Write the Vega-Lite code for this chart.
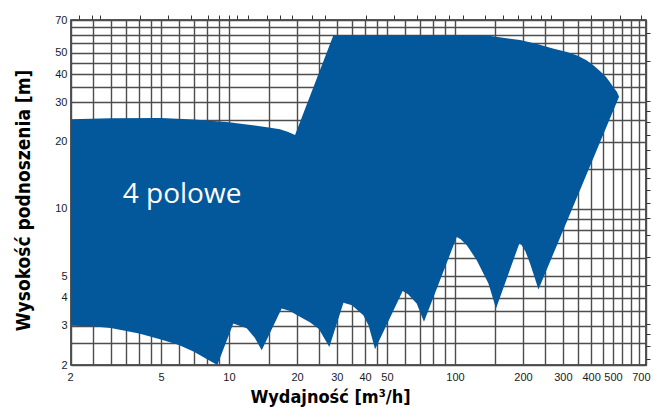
{
  "$schema": "https://vega.github.io/schema/vega-lite/v6.json",
  "width": 575,
  "height": 345,
  "autosize": {"type": "none"},
  "padding": {"left": 71, "top": 20, "right": 7, "bottom": 43},
  "background": "white",
  "config": {
    "view": {"stroke": "#222222", "strokeWidth": 1.5},
    "axis": {"labelFont": "Liberation Sans", "labelFontSize": 11, "labelColor": "#1a1a1a", "titleFont": "Liberation Sans Narrow, DejaVu Sans Condensed, sans-serif", "titleFontWeight": "bold", "titleColor": "#000000", "titleFontSize": 19}
  },
  "datasets": {
    "shape": [
      {"i": 1, "q": 2, "h": 25.2},
      {"i": 2, "q": 3, "h": 25.4},
      {"i": 3, "q": 5, "h": 25.5},
      {"i": 4, "q": 7, "h": 25.1},
      {"i": 5, "q": 10, "h": 24.4},
      {"i": 6, "q": 13, "h": 23.6},
      {"i": 7, "q": 15, "h": 23.1},
      {"i": 8, "q": 16.8, "h": 22.7},
      {"i": 9, "q": 18.3, "h": 22.1},
      {"i": 10, "q": 19.6, "h": 21.4},
      {"i": 11, "q": 29, "h": 60},
      {"i": 12, "q": 129, "h": 59.8},
      {"i": 13, "q": 144, "h": 59.3},
      {"i": 14, "q": 160, "h": 58.5},
      {"i": 15, "q": 194, "h": 56.9},
      {"i": 16, "q": 231, "h": 54.6},
      {"i": 17, "q": 271, "h": 52.2},
      {"i": 18, "q": 313, "h": 50.3},
      {"i": 19, "q": 347, "h": 48.5},
      {"i": 20, "q": 380, "h": 46.3},
      {"i": 21, "q": 408, "h": 44.0},
      {"i": 22, "q": 438, "h": 41.4},
      {"i": 23, "q": 466, "h": 38.9},
      {"i": 24, "q": 485, "h": 36.9},
      {"i": 25, "q": 505, "h": 34.7},
      {"i": 26, "q": 521, "h": 33.3},
      {"i": 27, "q": 532, "h": 31.7},
      {"i": 28, "q": 234, "h": 4.36},
      {"i": 29, "q": 224, "h": 5.0},
      {"i": 30, "q": 214.8, "h": 5.69},
      {"i": 31, "q": 205, "h": 6.45},
      {"i": 32, "q": 197, "h": 6.88},
      {"i": 33, "q": 192.6, "h": 7.0},
      {"i": 34, "q": 151.9, "h": 3.58},
      {"i": 35, "q": 140.6, "h": 4.63},
      {"i": 36, "q": 124.8, "h": 5.89},
      {"i": 37, "q": 113, "h": 6.85},
      {"i": 38, "q": 106, "h": 7.3},
      {"i": 39, "q": 101.8, "h": 7.48},
      {"i": 40, "q": 72.9, "h": 3.12},
      {"i": 41, "q": 67.7, "h": 3.77},
      {"i": 42, "q": 62, "h": 4.15},
      {"i": 43, "q": 58.7, "h": 4.29},
      {"i": 44, "q": 44.3, "h": 2.35},
      {"i": 45, "q": 41.5, "h": 3.0},
      {"i": 46, "q": 39.3, "h": 3.34},
      {"i": 47, "q": 35, "h": 3.7},
      {"i": 48, "q": 32.1, "h": 3.8},
      {"i": 49, "q": 27.8, "h": 2.41},
      {"i": 50, "q": 25, "h": 2.9},
      {"i": 51, "q": 22.8, "h": 3.11},
      {"i": 52, "q": 20.6, "h": 3.29},
      {"i": 53, "q": 18.5, "h": 3.5},
      {"i": 54, "q": 17.1, "h": 3.58},
      {"i": 55, "q": 13.96, "h": 2.33},
      {"i": 56, "q": 13, "h": 2.65},
      {"i": 57, "q": 11.98, "h": 2.92},
      {"i": 58, "q": 10.45, "h": 3.07},
      {"i": 59, "q": 8.88, "h": 2.0},
      {"i": 60, "q": 8, "h": 2.12},
      {"i": 61, "q": 7, "h": 2.29},
      {"i": 62, "q": 6, "h": 2.46},
      {"i": 63, "q": 5, "h": 2.6},
      {"i": 64, "q": 4, "h": 2.77},
      {"i": 65, "q": 3, "h": 2.93},
      {"i": 66, "q": 2.5, "h": 2.98},
      {"i": 67, "q": 2, "h": 3.0}
    ],
    "label": [{"q": 6.2, "h": 11.5, "text": "4 polowe"}]
  },
  "layer": [
    {
      "data": {"name": "shape"},
      "mark": {"type": "line", "filled": true, "interpolate": "linear", "color": "#03579b", "strokeWidth": 0},
      "encoding": {
        "x": {
          "field": "q", "type": "quantitative",
          "scale": {"type": "log", "domain": [2, 700], "nice": false},
          "axis": {
            "orient": "bottom",
            "values": [2, 2.5, 3, 3.5, 4, 4.5, 5, 6, 7, 8, 9, 10, 15, 20, 25, 30, 35, 40, 45, 50, 60, 70, 80, 90, 100, 150, 200, 250, 300, 350, 400, 450, 500, 550, 600, 650, 700],
            "labelExpr": "indexof([2,5,10,20,30,40,50,100,200,300,400,500,700], datum.value) >= 0 ? datum.label : ''",
            "format": "~g",
            "labelOverlap": false,
            "labelPadding": 6,
            "labelFlush": true,
            "labelFlushOffset": 4,
            "ticks": false,
            "domain": false,
            "grid": true,
            "gridColor": "#4d4d4d",
            "gridWidth": 1.4,
            "title": "Wydajność [m³/h]",
            "titleFontSize": 18,
            "titleX": 259,
            "titleY": 32,
            "titleAlign": "center",
            "titleBaseline": "middle"
          }
        },
        "y": {
          "field": "h", "type": "quantitative",
          "scale": {"type": "log", "domain": [2, 70], "nice": false},
          "axis": {
            "orient": "left",
            "values": [2, 2.5, 3, 3.5, 4, 4.5, 5, 6, 7, 8, 9, 10, 15, 20, 25, 30, 35, 40, 45, 50, 55, 60, 65, 70],
            "labelExpr": "indexof([2,3,4,5,10,20,30,40,50,70], datum.value) >= 0 ? datum.label : ''",
            "format": "~g",
            "labelOverlap": false,
            "labelPadding": 4,
            "labelFlush": false,
            "ticks": false,
            "domain": false,
            "grid": true,
            "gridColor": "#4d4d4d",
            "gridWidth": 1.4,
            "title": "Wysokość podnoszenia [m]",
            "titleX": -48,
            "titleY": 180,
            "titleAngle": 270,
            "titleAlign": "center",
            "titleBaseline": "middle"
          }
        },
        "order": {"field": "i", "type": "quantitative"}
      }
    },
    {
      "data": {"name": "label"},
      "mark": {"type": "text", "color": "white", "font": "Open Sans", "fontSize": 28, "align": "center", "baseline": "middle"},
      "encoding": {
        "x": {
          "field": "q", "type": "quantitative",
          "axis": {
            "orient": "top",
            "values": [2.17, 2.47, 2.69, 4.04, 5.37, 6.77, 8.1, 9.0, 10, 10.9, 12.2, 14.8, 16.8, 19, 23.3, 26.6, 40.2, 53.8, 67.6, 81.5, 93.6, 108.8, 135.7, 162.8, 190, 218, 241, 267, 400, 535, 667],
            "labels": false, "domain": false, "grid": false, "ticks": true,
            "tickSize": 4, "tickColor": "#333333", "tickWidth": 1, "offset": 1, "title": null
          }
        },
        "y": {
          "field": "h", "type": "quantitative",
          "axis": {
            "orient": "right",
            "values": [2.134, 2.438, 2.743, 3.048, 4.572, 6.096, 7.62, 9.144, 10.668, 12.192, 13.716, 15.24, 18.288, 21.336, 24.384, 27.432, 30.48, 45.72, 60.96],
            "labels": false, "domain": false, "grid": false, "ticks": true,
            "tickSize": 4, "tickColor": "#333333", "tickWidth": 1, "offset": 0, "title": null
          }
        },
        "text": {"field": "text"}
      }
    }
  ],
  "resolve": {"axis": {"x": "independent", "y": "independent"}}
}
